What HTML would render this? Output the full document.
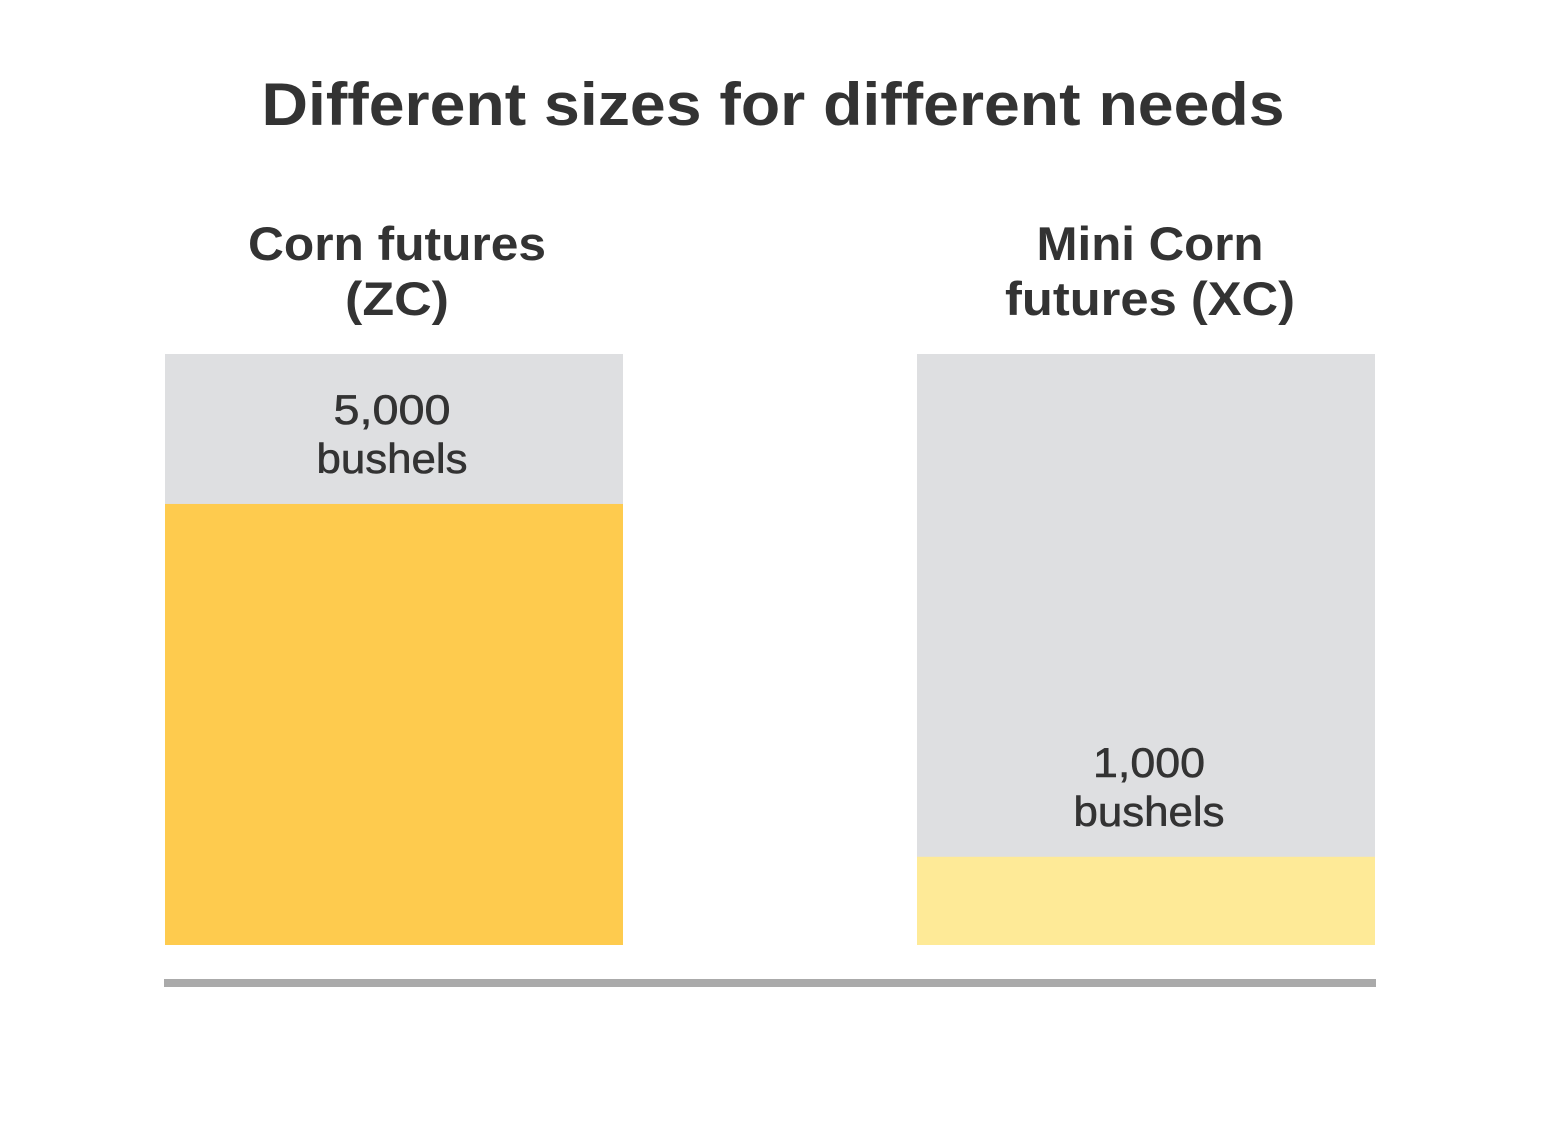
<!DOCTYPE html>
<html><head><meta charset="utf-8"><style>
html,body{margin:0;padding:0;background:#fff;}
svg{display:block;font-family:"Liberation Sans",Arial,sans-serif;}
</style></head><body>
<svg id="chart" width="1544" height="1121" viewBox="0 0 1544 1121">
<text x="773" y="125" text-anchor="middle" font-size="60" font-weight="bold" fill="#333" textLength="1023" lengthAdjust="spacingAndGlyphs">Different sizes for different needs</text>
<g id="bars"></g>
<rect x="164" y="979" width="1212" height="8" fill="#aaaaaa"/>
</svg>
<script>
const categories = ["Corn futures (ZC)", "Mini Corn futures (XC)"];
const values = [5000, 1000];
const capacity = 6700;
const valueLabels = ["5,000", "1,000"];
const unitLabel = "bushels";

const NS = "http://www.w3.org/2000/svg";
const base = 945, top0 = 354;
function y(v){ return base - v * (base - top0) / capacity; }
const xs = [165, 917], bw = 458;
const fills = ["#fecb4e", "#feea97"];
const titleLines = [["Corn futures","(ZC)"],["Mini Corn","futures (XC)"]];
const titleWidths = [[298,104],[227,290]];
const titleShift = [3, 4];
const labelShift = [-2, 3];
const g = document.getElementById("bars");
function mk(tag, attrs){ const e=document.createElementNS(NS,tag); for(const k in attrs) e.setAttribute(k,attrs[k]); g.appendChild(e); return e; }

categories.forEach((c,i)=>{
  const cx = xs[i] + bw/2;
  const bg = mk("rect",{x:xs[i],y:y(capacity),width:bw,height:base-y(capacity),fill:"#dedfe1"});
  
  
  const fb = mk("rect",{x:xs[i],y:y(values[i]),width:bw,height:base-y(values[i]),fill:fills[i]});
  
  
  titleLines[i].forEach((ln,j)=>{
    const t = mk("text",{x:cx+titleShift[i],y:260+j*55,"text-anchor":"middle","font-size":47,"font-weight":"bold",fill:"#333",textLength:titleWidths[i][j],lengthAdjust:"spacingAndGlyphs"});
    t.textContent = ln;
    
    
  });
  const ty = y(values[i]);
  const t1 = mk("text",{x:cx+labelShift[i],y:ty-80,"text-anchor":"middle","font-size":42,fill:"#333",stroke:"#333","stroke-width":0.6,textLength:i?112:117,lengthAdjust:"spacingAndGlyphs"});
  t1.textContent = valueLabels[i];
  
  
  const t2 = mk("text",{x:cx+labelShift[i],y:ty-31,"text-anchor":"middle","font-size":42,fill:"#333",stroke:"#333","stroke-width":0.6,textLength:151,lengthAdjust:"spacingAndGlyphs"});
  t2.textContent = unitLabel;
  
  
});
</script>
</body></html>
